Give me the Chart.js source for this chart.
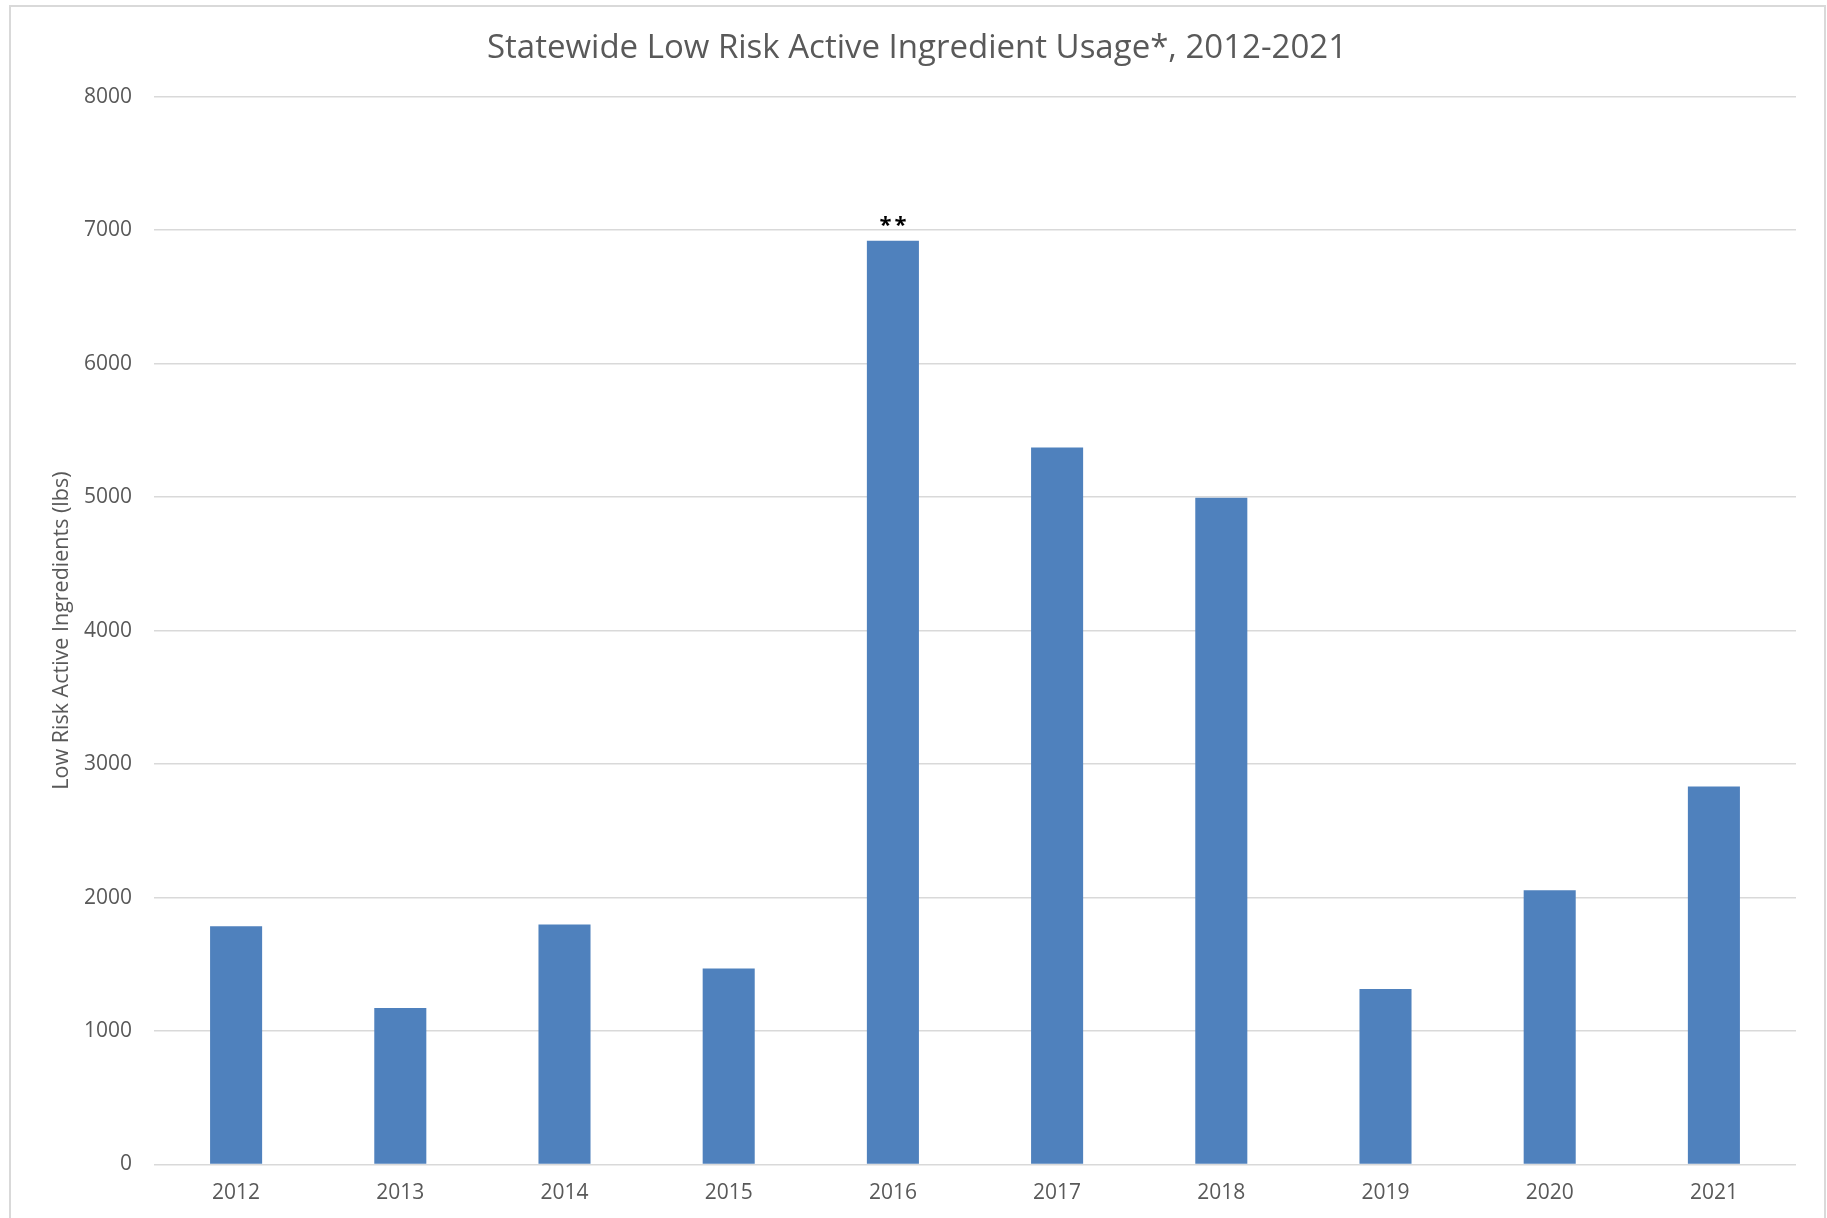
<!DOCTYPE html>
<html>
<head>
<meta charset="utf-8">
<title>Statewide Low Risk Active Ingredient Usage</title>
<script src="https://cdn.jsdelivr.net/npm/chart.js@4.4.1/dist/chart.umd.min.js"></script>
<style>
  html, body { margin: 0; padding: 0; background: #fff; overflow: hidden; }
  #wrap { position: relative; width: 1827px; height: 1218px; }
</style>
</head>
<body>
<div id="wrap"><canvas id="graficoUso"></canvas></div>
<script>
const anos = ["2012", "2013", "2014", "2015", "2016", "2017", "2018", "2019", "2020", "2021"];
const usoLbs = [1785, 1172, 1798, 1468, 6920, 5371, 4995, 1314, 2055, 2831];
const notas = ["", "", "", "", "**", "", "", "", "", ""];
const yTicks = [0, 1000, 2000, 3000, 4000, 5000, 6000, 7000, 8000];

const cinza = "#595959";
const fonte = "'Open Sans', 'Noto Sans', sans-serif";

// moldura cinza do gráfico (como no Excel)
const moldura = {
  id: "moldura",
  beforeDraw(chart) {
    const c = chart.ctx;
    c.save();
    c.fillStyle = "#fff";
    c.fillRect(0, 0, chart.width, chart.height);
    c.strokeStyle = "#d9d9d9";
    c.lineWidth = 2;
    c.strokeRect(10, 6, 1815, 1400);
    c.restore();
  }
};

// asteriscos acima da barra
const notasBarra = {
  id: "notasBarra",
  afterDatasetsDraw(chart) {
    const meta = chart.getDatasetMeta(0);
    const c = chart.ctx;
    c.save();
    c.fillStyle = "#000";
    c.font = "bold 22px " + fonte;
    c.textAlign = "center";
    c.textBaseline = "middle";
    meta.data.forEach((bar, i) => {
      if (!notas[i]) return;
      // espaçamento entre os asteriscos, como no original
      const chars = notas[i].split("");
      const passo = 15;
      const x0 = bar.x - (passo * (chars.length - 1)) / 2;
      chars.forEach((ch, k) => c.fillText(ch, x0 + k * passo, bar.y - 15));
    });
    c.restore();
  }
};

const ctx = document.getElementById("graficoUso").getContext("2d");

new Chart(ctx, {
  type: "bar",
  data: {
    labels: anos,
    datasets: [
      {
        label: "Low Risk Active Ingredients (lbs)",
        data: usoLbs,
        backgroundColor: "#4f81bd",
        barPercentage: 0.317,
        categoryPercentage: 1,
      },
    ],
  },
  options: {
    responsive: true,
    maintainAspectRatio: false,
    animation: false,
    layout: { padding: { left: 38, right: 31, top: 0, bottom: 0 } },
    plugins: {
      legend: { display: false },
      tooltip: { enabled: false },
      title: {
        display: true,
        text: "Statewide Low Risk Active Ingredient Usage*, 2012-2021",
        color: cinza,
        font: { family: fonte, size: 33, weight: "normal" },
        padding: { top: 29, bottom: 28 },
      },
    },
    scales: {
      x: {
        grid: { display: false },
        border: { display: false },
        ticks: {
          color: cinza,
          font: { family: fonte, size: 21 },
          padding: 8,
          maxRotation: 0,
        },
        afterFit(scale) {
          scale.height = 53.5;
        },
      },
      y: {
        min: 0,
        max: 8000,
        afterBuildTicks(scale) {
          scale.ticks = yTicks.map((v) => ({ value: v }));
        },
        grid: { color: "#d9d9d9", lineWidth: 1.5, drawTicks: false },
        border: { display: false },
        ticks: {
          color: cinza,
          font: { family: fonte, size: 21 },
          padding: 22,
          callback: (v) => String(v),
        },
        title: {
          display: true,
          text: "Low Risk Active Ingredients (lbs)",
          color: cinza,
          font: { family: fonte, size: 21.5 },
          padding: { top: 11, bottom: 0 },
        },
        afterFit(scale) {
          scale.width = 116;
        },
      },
    },
  },
  plugins: [moldura, notasBarra],
});
</script>
</body>
</html>
